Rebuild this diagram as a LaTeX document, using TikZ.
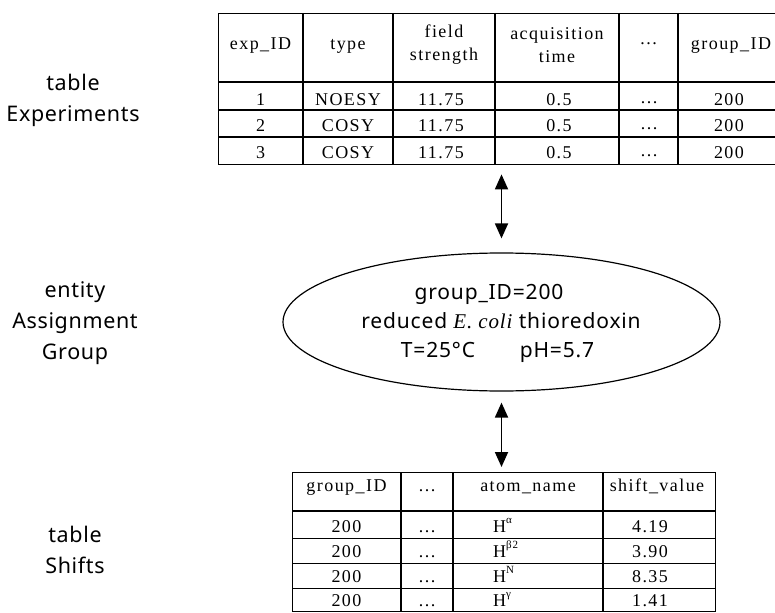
\documentclass[tikz,border=0pt]{standalone}
\usepackage{fontspec}
\setmainfont{Liberation Serif}
\newfontfamily\cellfamily{Liberation Serif}[LetterSpace=8]
\newfontfamily\labelfamily{Noto Sans}[LetterSpace=3]
\newfontfamily\ovalfamily{Noto Sans}[LetterSpace=4]
\newfontfamily\ovalserif{Liberation Serif}[LetterSpace=4]
\newcommand\tabfont{\cellfamily\fontsize{18}{23}\selectfont}
\newcommand\tagfont{\labelfamily\fontsize{21.5}{31}\selectfont}
\newcommand\ovalfont{\ovalfamily\fontsize{21}{28}\selectfont}
\newcommand\atomsup[1]{\raisebox{9pt}{\cellfamily\fontsize{11}{11}\selectfont #1}}
\usetikzlibrary{arrows.meta,shapes.geometric,calc}

\begin{document}
\begin{tikzpicture}[x=1pt,y=-1pt,
  rule/.style={line width=1.4pt},
  frame/.style={draw, line width=1.4pt, inner sep=0pt, anchor=north west},
  cell/.style={font=\tabfont, inner sep=0pt, anchor=base},
  head/.style={font=\tabfont, inner sep=0pt, align=center, anchor=center},
  tag/.style={font=\tagfont, inner sep=0pt, align=center, anchor=north},
  ovaltext/.style={font=\ovalfont, inner sep=0pt, anchor=base},
  link/.style={line width=1.8pt,
    {Triangle[length=15pt,width=13pt]}-{Triangle[length=15pt,width=13pt]}}
]
\useasboundingbox (0,0) rectangle (775,612);

% side captions
\node[tag] (lexp) at (73,74) {table\\Experiments};
\node[tag] (lgrp) at (75,281) {entity\\Assignment\\Group};
\node[tag] (lshf) at (75,526) {table\\Shifts};

% table Experiments
\node[frame, minimum width=557pt, minimum height=151pt] (exps) at (218,13) {};
\foreach \x in {303,393,495,619,678} \draw[rule] (\x,13) -- (\x,164);
\foreach \y in {82,110,137} \draw[rule] (218,\y) -- (775,\y);

\node[cell] (eh1) at (260.5,50) {exp\_ID};
\node[cell] (eh2) at (348,50) {type};
\node[head] (eh3) at (444,45) {field\\strength};
\node[head] (eh4) at (557,45) {acquisition\\time};
\node[cell] (eh5) at (648.5,45) {\dots};
\node[cell] (eh6) at (731,50) {group\_ID};

\foreach \y/\n/\t in {105.5/1/NOESY, 132/2/COSY, 159/3/COSY} {
  \node[cell] (e\n a) at (260.5,\y) {\n};
  \node[cell] (e\n b) at (348,\y) {\t};
  \node[cell] (e\n c) at (441,\y) {11.75};
  \node[cell] (e\n d) at (559,\y) {0.5};
  \node[cell] (e\n e) at (649,\y-2) {\dots};
  \node[cell] (e\n f) at (729,\y) {200};
}

% entity Assignment Group
\node[draw, ellipse, line width=1.2pt, minimum width=437pt, minimum height=138pt,
      inner sep=0pt] (grp) at (501.5,322) {};
\node[ovaltext] (g1) at (489,299) {group\_ID=200};
\node[ovaltext] (g2) at (501,328) {reduced {\ovalserif\itshape E. coli} thioredoxin};
\node[ovaltext] (g3) at (438,357) {T=25°C};
\node[ovaltext] (g4) at (557,357) {pH=5.7};

% table Shifts
\node[frame, minimum width=423pt, minimum height=139pt] (shfs) at (292,472) {};
\foreach \x in {401,453,603} \draw[rule] (\x,472) -- (\x,611);
\foreach \y in {511,538.5,563.5,588.5} \draw[rule] (292,\y) -- (715,\y);

\node[cell] (sh1) at (346.5,491) {group\_ID};
\node[cell] (sh2) at (427,491) {\dots};
\node[cell] (sh3) at (528,491) {atom\_name};
\node[cell] (sh4) at (657,491) {shift\_value};

\foreach \y/\n/\s/\v in {532/1/α/4.19, 557/2/β2/3.90, 582/3/N/8.35, 606/4/γ/1.41} {
  \node[cell] (s\n a) at (346.5,\y) {200};
  \node[cell] (s\n b) at (427,\y) {\dots};
  \node[cell, anchor=base west] (s\n c) at (493,\y) {H\atomsup{\s}};
  \node[cell] (s\n d) at (650,\y) {\v};
}

% links between the group and both tables
\draw[link] ($(grp.north |- exps.south)+(0,9)$) -- ($(grp.north)+(0,-14)$);
\draw[link] ($(grp.south)+(0,11)$) -- ($(grp.south |- shfs.north)+(0,-5)$);
\end{tikzpicture}
\end{document}
